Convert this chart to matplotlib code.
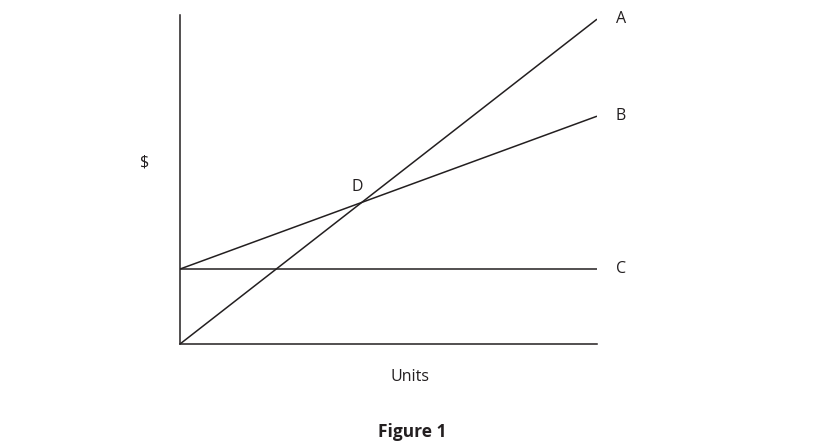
import matplotlib
matplotlib.use('Agg')
import matplotlib.pyplot as plt

plt.rcParams['font.family'] = ['Open Sans', 'DejaVu Sans']

# units along the x axis and dollars on the y axis
units = [0, 100]
line_a = [0, 78]      # total revenue
line_b = [18, 54.7]   # total cost
line_c = [18, 18]     # fixed cost
line_labels = ['A', 'B', 'C']
ink = '#231f20'

fig = plt.figure(figsize=(8.38, 4.45), dpi=100)
ax = fig.add_axes([180 / 838, (445 - 344) / 445, 417 / 838, (344 - 15) / 445])

for ys, lab in zip([line_a, line_b, line_c], line_labels):
    ax.plot(units, ys, color=ink, lw=1.1, solid_capstyle='butt')
    ax.annotate(lab, (units[-1], ys[-1]), xytext=(17, 0), textcoords='offset points',
                ha='center', va='center', fontsize=11.5, color=ink)

# intersection label
x_d = line_b[0] / ((line_a[1] - line_a[0]) / 100 - (line_b[1] - line_b[0]) / 100)
y_d = line_a[1] / 100 * x_d
ax.annotate('D', (x_d, y_d), xytext=(-3, 11), textcoords='offset points',
            ha='center', va='center', fontsize=11.5, color=ink)

ax.set_xlim(0, 100)
ax.set_ylim(0, 79)
ax.set_xticks([])
ax.set_yticks([])
for s in ['top', 'right']:
    ax.spines[s].set_visible(False)
for s in ['left', 'bottom']:
    ax.spines[s].set_color(ink)
    ax.spines[s].set_linewidth(1.1)

ax.set_xlabel('Units', fontsize=11.5, color=ink)
ax.xaxis.set_label_coords((410 - 180) / 417, -(377 - 344) / 329, transform=ax.transAxes)
ax.xaxis.label.set_va('center')
ax.set_ylabel('$', fontsize=11.5, color=ink, rotation=0)
ax.yaxis.set_label_coords((145 - 180) / 417, (344 - 163) / 329)
ax.yaxis.label.set_va('center')

fig.text(412 / 838, 1 - 432 / 445, 'Figure 1', ha='center', va='center',
         fontsize=12.5, fontweight='bold', color=ink)

fig.savefig('out.png', dpi=100)
